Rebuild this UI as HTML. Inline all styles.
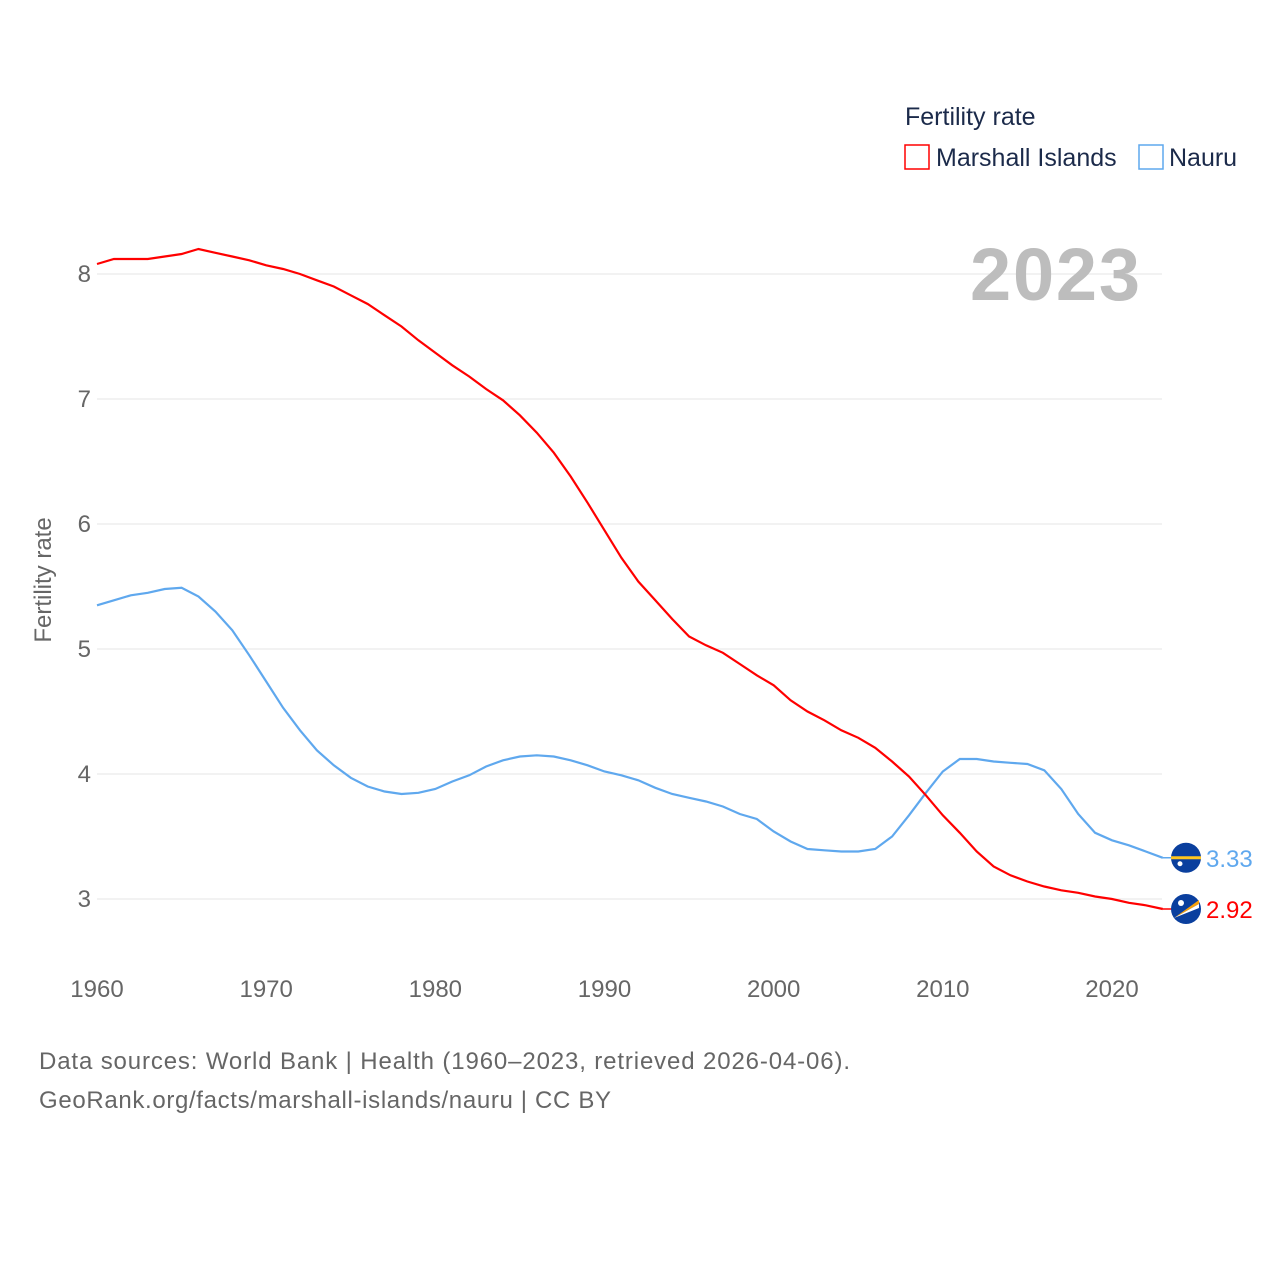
<!DOCTYPE html>
<html><head><meta charset="utf-8"><style>
body{margin:0;background:#fff;width:1280px;height:1280px;overflow:hidden;font-family:"Liberation Sans",sans-serif}
</style></head><body>
<svg id="chart" width="1280" height="1280" style="font-family:'Liberation Sans',sans-serif">
<g id="grid"></g><g id="lines"></g>
<text x="905" y="125" font-size="25" fill="#1b2a4a">Fertility rate</text>
<rect x="905" y="145" width="24" height="24" fill="none" stroke="#ff0000" stroke-width="1.5"/>
<text x="936" y="166" font-size="25" fill="#1b2a4a">Marshall Islands</text>
<rect x="1139" y="145" width="24" height="24" fill="none" stroke="#5fa8ee" stroke-width="1.5"/>
<text x="1169" y="166" font-size="25" fill="#1b2a4a">Nauru</text>
<text x="1140" y="300" font-size="74" font-weight="bold" fill="#bdbdbd" text-anchor="end" textLength="170">2023</text>
<text transform="translate(51,580) rotate(-90)" font-size="24" fill="#666" text-anchor="middle">Fertility rate</text>
<text x="39" y="1069" font-size="24" fill="#666" textLength="811">Data sources: World Bank | Health (1960–2023, retrieved 2026-04-06).</text>
<text x="39" y="1108" font-size="24" fill="#666" textLength="572">GeoRank.org/facts/marshall-islands/nauru | CC BY</text>
</svg>
<script>
const years=[];for(let y=1960;y<=2023;y++)years.push(y);
const marshall=[8.08,8.12,8.12,8.12,8.14,8.16,8.20,8.17,8.14,8.11,8.07,8.04,8.00,7.95,7.90,7.83,7.76,7.67,7.58,7.47,7.37,7.27,7.18,7.08,6.99,6.87,6.73,6.57,6.38,6.17,5.95,5.73,5.54,5.39,5.24,5.10,5.03,4.97,4.88,4.79,4.71,4.59,4.50,4.43,4.35,4.29,4.21,4.10,3.98,3.83,3.67,3.53,3.38,3.26,3.19,3.14,3.10,3.07,3.05,3.02,3.00,2.97,2.95,2.92];
const nauru=[5.35,5.39,5.43,5.45,5.48,5.49,5.42,5.30,5.15,4.95,4.74,4.53,4.35,4.19,4.07,3.97,3.90,3.86,3.84,3.85,3.88,3.94,3.99,4.06,4.11,4.14,4.15,4.14,4.11,4.07,4.02,3.99,3.95,3.89,3.84,3.81,3.78,3.74,3.68,3.64,3.54,3.46,3.40,3.39,3.38,3.38,3.40,3.50,3.67,3.85,4.02,4.12,4.12,4.10,4.09,4.08,4.03,3.88,3.68,3.53,3.47,3.43,3.38,3.33];
const yTicks=[3,4,5,6,7,8];
const xTicks=[1960,1970,1980,1990,2000,2010,2020];
const NS="http://www.w3.org/2000/svg";
const xs=y=>97+(y-1960)*(1015/60);
const ys=v=>899-(v-3)*125;
const grid=document.getElementById('grid'),lines=document.getElementById('lines');
function mk(tag,attrs,parent){const e=document.createElementNS(NS,tag);for(const k in attrs)e.setAttribute(k,attrs[k]);parent.appendChild(e);return e;}
yTicks.forEach(t=>{
 const l=mk('line',{x1:97,x2:1162,y1:ys(t),y2:ys(t),stroke:'#e6e6e6','stroke-width':1},grid);
 
 
 const tx=mk('text',{x:91,y:ys(t)+8,'font-size':24,fill:'#666','text-anchor':'end'},grid);tx.textContent=t;
 
 
});
xTicks.forEach(t=>{
 const tx=mk('text',{x:xs(t),y:997,'font-size':24,fill:'#666','text-anchor':'middle'},grid);tx.textContent=t;
 
 
});
function series(vals,color,name,label){
 const d=vals.map((v,i)=>(i?'L':'M')+xs(years[i]).toFixed(1)+','+ys(v).toFixed(1)).join('');
 const p=mk('path',{d:d,fill:'none',stroke:color,'stroke-width':2.2},lines);
 
 
 const last=vals[vals.length-1],yy=ys(last);
 mk('line',{x1:xs(2023),x2:1172,y1:yy,y2:yy,stroke:color,'stroke-width':1.5},lines);
 const c=mk('circle',{cx:1186,cy:yy,r:15,fill:'#0a3f9e'},lines);
 
 
 if(name==='nauru'){mk('rect',{x:1171,y:yy-1.5,width:30,height:3,fill:'#ffc61e'},lines);mk('circle',{cx:1180,cy:yy+6,r:2.5,fill:'#fff'},lines);}
 else{mk('path',{d:`M1174,${yy+9}L1199,${yy-9}L1199,${yy-5}Z`,fill:'#f7a10a'},lines);mk('path',{d:`M1174,${yy+9}L1199,${yy-5}L1199,${yy-1}Z`,fill:'#fff'},lines);mk('circle',{cx:1181,cy:yy-6,r:3,fill:'#fff'},lines);}
 const t=mk('text',{x:1206,y:yy+9,'font-size':24,fill:color},lines);t.textContent=label(last);
 
 
}
series(nauru,'#5fa8ee','nauru',v=>v.toFixed(2));
series(marshall,'#ff0000','marshall',v=>v.toFixed(2));
</script>
</body></html>
